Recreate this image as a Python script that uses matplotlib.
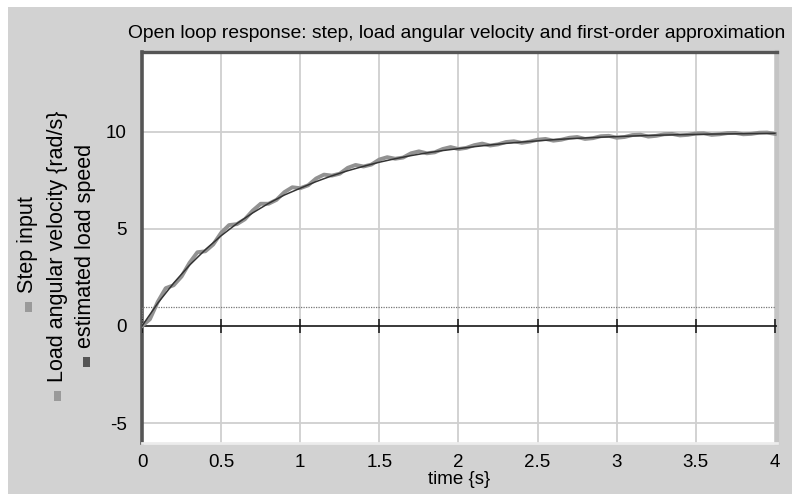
import matplotlib
matplotlib.use("Agg")
import matplotlib.pyplot as plt
from matplotlib.patches import Rectangle

plt.rcParams['font.family'] = ['Liberation Sans', 'DejaVu Sans']

# ---- data ----
title = "Open loop response: step, load angular velocity and first-order approximation"
xlabel = "time {s}"
legend_labels = ["Step input", "Load angular velocity {rad/s}", "estimated load speed"]
xticks = [0, 0.5, 1, 1.5, 2, 2.5, 3, 3.5, 4]
xtick_labels = ["0", "0.5", "1", "1.5", "2", "2.5", "3", "3.5", "4"]
yticks = [-5, 0, 5, 10]
ytick_labels = ["-5", "0", "5", "10"]

step_t = [0.0, 0.0, 4.0]
step_v = [0.0, 1.0, 1.0]

load_t = [0.00, 0.05, 0.10, 0.15, 0.20, 0.25, 0.30, 0.35, 0.40, 0.45,
          0.50, 0.55, 0.60, 0.65, 0.70, 0.75, 0.80, 0.85, 0.90, 0.95,
          1.00, 1.05, 1.10, 1.15, 1.20, 1.25, 1.30, 1.35, 1.40, 1.45,
          1.50, 1.55, 1.60, 1.65, 1.70, 1.75, 1.80, 1.85, 1.90, 1.95,
          2.00, 2.05, 2.10, 2.15, 2.20, 2.25, 2.30, 2.35, 2.40, 2.45,
          2.50, 2.55, 2.60, 2.65, 2.70, 2.75, 2.80, 2.85, 2.90, 2.95,
          3.00, 3.05, 3.10, 3.15, 3.20, 3.25, 3.30, 3.35, 3.40, 3.45,
          3.50, 3.55, 3.60, 3.65, 3.70, 3.75, 3.80, 3.85, 3.90, 3.95, 4.00]
load_v = [0.00, 0.35, 1.25, 1.95, 2.10, 2.55, 3.25, 3.80, 3.85, 4.20,
          4.80, 5.20, 5.25, 5.50, 5.95, 6.30, 6.30, 6.50, 6.90, 7.15,
          7.10, 7.25, 7.60, 7.80, 7.75, 7.85, 8.15, 8.30, 8.22, 8.32,
          8.58, 8.70, 8.62, 8.68, 8.90, 9.00, 8.90, 8.95, 9.12, 9.22,
          9.12, 9.18, 9.32, 9.40, 9.30, 9.36, 9.48, 9.52, 9.44, 9.50,
          9.60, 9.64, 9.55, 9.60, 9.70, 9.74, 9.64, 9.68, 9.78, 9.80,
          9.70, 9.74, 9.84, 9.86, 9.76, 9.80, 9.88, 9.90, 9.82, 9.85,
          9.92, 9.93, 9.85, 9.88, 9.94, 9.95, 9.88, 9.90, 9.96, 9.97, 9.90]

est_t = [0.0, 0.1, 0.2, 0.3, 0.4, 0.5, 0.6, 0.7, 0.8, 0.9,
         1.0, 1.1, 1.2, 1.3, 1.4, 1.5, 1.6, 1.7, 1.8, 1.9,
         2.0, 2.1, 2.2, 2.3, 2.4, 2.5, 2.6, 2.7, 2.8, 2.9,
         3.0, 3.1, 3.2, 3.3, 3.4, 3.5, 3.6, 3.7, 3.8, 3.9, 4.0]
est_v = [0.00, 1.18, 2.21, 3.13, 3.93, 4.65, 5.28, 5.83, 6.32, 6.75,
         7.10, 7.44, 7.74, 8.00, 8.23, 8.44, 8.62, 8.78, 8.92, 9.04,
         9.14, 9.24, 9.33, 9.41, 9.48, 9.54, 9.60, 9.65, 9.69, 9.73,
         9.76, 9.79, 9.82, 9.84, 9.86, 9.87, 9.89, 9.90, 9.91, 9.92, 9.93]

# ---- figure ----
W, H = 792, 494
fig = plt.figure(figsize=(W / 100, H / 100), dpi=100)
fig.patch.set_facecolor('white')
# gray panel (white strip at top and left)
fig.patches.append(Rectangle((8 / W, 0), 1, 1 - 7 / H, transform=fig.transFigure,
                             facecolor='#d2d2d2', edgecolor='none', zorder=-10))

ax = fig.add_axes([142 / W, 1 - 443 / H, (777 - 142) / W, (443 - 52) / H])
ax.set_zorder(1)
ax.set_facecolor('white')
ax.set_xlim(0, 4.013)
ax.set_ylim(-6.03, 14.12)

ax.set_xticks(xticks)
ax.set_xticklabels(xtick_labels, fontsize=13.5)
ax.set_yticks(yticks)
ax.set_yticklabels(ytick_labels, fontsize=13.5)
ax.tick_params(axis='both', length=0)
ax.tick_params(axis='x', pad=8)
ax.tick_params(axis='y', pad=11)
ax.grid(True, color='#cfcfcf', linewidth=1.3)
ax.set_axisbelow(True)

for side, col, lw in [('left', '#555555', 2.6), ('top', '#555555', 2.4),
                      ('right', '#c4c4c4', 3.0), ('bottom', '#ececec', 2.0)]:
    ax.spines[side].set_color(col)
    ax.spines[side].set_linewidth(lw)

# zero axis with ticks
ax.axhline(0, color='#111111', linewidth=1.1, zorder=3)
ax.plot(xticks, [0] * len(xticks), linestyle='none', marker='|', markersize=10,
        markeredgewidth=1.1, color='#111111', zorder=3)

ax.plot(step_t, step_v, color='#777777', linestyle=(0, (1, 1)), linewidth=0.9, zorder=4)
ax.plot(load_t, load_v, color='#929292', linewidth=2.8, zorder=5)
ax.plot(est_t, est_v, color='#333333', linewidth=1.1, zorder=6)

ax.set_xlabel(xlabel, fontsize=13.5, labelpad=0)

fig.text(128 / W, 1 - 33 / H, title, fontsize=13.85, ha='left', va='center')

# rotated legend at left
leg_x = [28, 57, 86]
leg_colors = ['#9a9a9a', '#9a9a9a', '#555555']
leg_text_bottom = [293, 382, 348]
for x, lab, c, yb in zip(leg_x, legend_labels, leg_colors, leg_text_bottom):
    fig.text(x / W, 1 - yb / H, lab, rotation=90, fontsize=15.5,
             ha='left', va='center', rotation_mode='anchor')
    fig.patches.append(Rectangle(((x - 3.5) / W, 1 - (yb + 19) / H), 7 / W, 10 / H,
                                 transform=fig.transFigure, facecolor=c,
                                 edgecolor='none', zorder=2))

fig.savefig('out.png', dpi=100, facecolor=fig.get_facecolor())
